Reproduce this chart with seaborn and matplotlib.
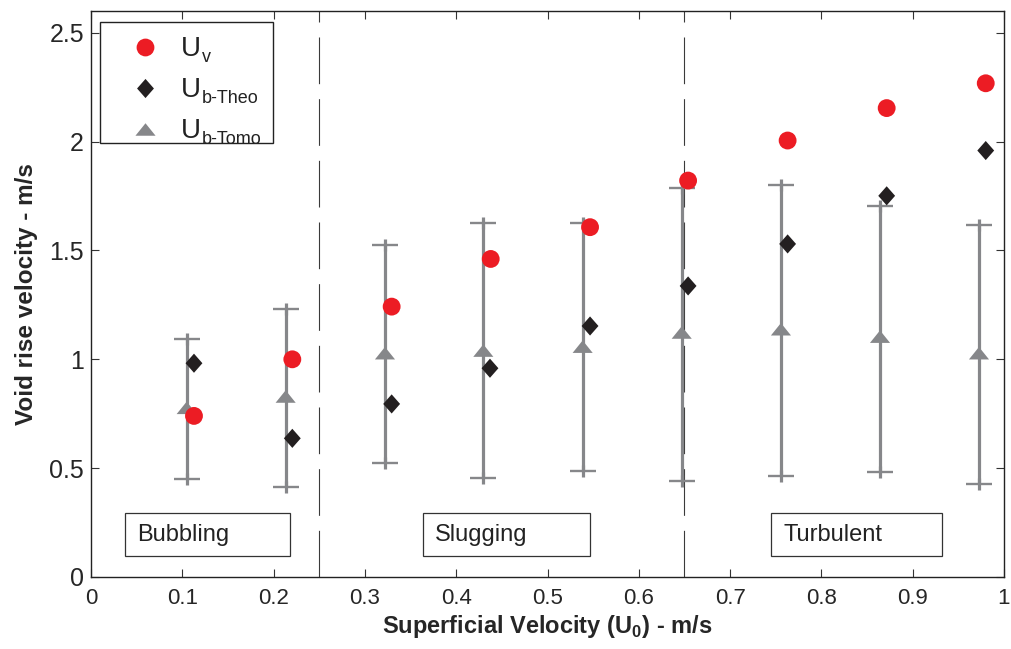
import matplotlib
matplotlib.use("Agg")
import matplotlib.pyplot as plt
from matplotlib.lines import Line2D
import numpy as np
import pandas as pd
import seaborn as sns

# Superficial velocity positions for each series (m/s)
u0_v = [0.1128, 0.2205, 0.3293, 0.4378, 0.5466, 0.654, 0.763, 0.8715, 0.980]
u_v = [0.740, 1.000, 1.242, 1.461, 1.607, 1.821, 2.005, 2.154, 2.268]

u0_theo = [0.1128, 0.2205, 0.3293, 0.437, 0.5466, 0.654, 0.763, 0.8715, 0.980]
u_theo = [0.982, 0.637, 0.795, 0.959, 1.153, 1.337, 1.530, 1.751, 1.959]

u0_tomo = [0.1048, 0.2132, 0.322, 0.4297, 0.5385, 0.647, 0.7557, 0.8642, 0.9726]
u_tomo = [0.777, 0.829, 1.028, 1.040, 1.058, 1.123, 1.138, 1.104, 1.028]
tomo_low = [0.450, 0.415, 0.522, 0.4535, 0.4886, 0.443, 0.464, 0.484, 0.427]
tomo_high = [1.094, 1.232, 1.523, 1.625, 1.625, 1.789, 1.801, 1.706, 1.618]

legend_subscripts = ["v", "b-Theo", "b-Tomo"]

regime_bounds = [0.25, 0.65]
regime_names = ["Bubbling", "Slugging", "Turbulent"]
regime_box_x = [0.037, 0.364, 0.745]
regime_box_w = [0.181, 0.183, 0.187]

x_ticks = [0, 0.1, 0.2, 0.3, 0.4, 0.5, 0.6, 0.7, 0.8, 0.9, 1]
y_ticks = [0, 0.5, 1, 1.5, 2, 2.5]

sns.set_theme(style="white")
plt.rcParams["font.family"] = ["Liberation Sans", "DejaVu Sans"]
plt.rcParams["mathtext.fontset"] = "custom"
plt.rcParams["mathtext.rm"] = "Liberation Sans"
plt.rcParams["mathtext.bf"] = "Liberation Sans:bold"

RED = "#ec1c24"
DARK = "#231f20"
GREY = "#86878a"
TEXT = "#222222"

# wide, flat triangle and slightly tall diamond marker shapes
FLAT_TRI = [(-1.0, -0.62), (1.0, -0.62), (0.0, 0.62)]
TALL_DIAMOND = [(0.0, 1.0), (0.88, 0.0), (0.0, -1.0), (-0.88, 0.0)]

fig = plt.figure(figsize=(10.11, 6.49), dpi=100)
ax = fig.add_axes([91 / 1011, 72 / 649, 913 / 1011, 566 / 649])

# Measured bubble velocity spread (tomography)
tomo = np.array(u_tomo)
yerr = np.vstack([tomo - np.array(tomo_low), np.array(tomo_high) - tomo])
ax.errorbar(u0_tomo, u_tomo, yerr=yerr, fmt="none", ecolor=GREY,
            elinewidth=2.3, capsize=9.5, capthick=1.7, zorder=2)
# short vertical stubs through the caps give the "+" ends
ax.plot(u0_tomo + u0_tomo, tomo_low + tomo_high, ls="none", marker="|",
        ms=8, mew=2.3, color=GREY, zorder=2)

df_tomo = pd.DataFrame({"x": u0_tomo, "y": u_tomo})
df_theo = pd.DataFrame({"x": u0_theo, "y": u_theo})
df_v = pd.DataFrame({"x": u0_v, "y": u_v})

sns.scatterplot(data=df_tomo, x="x", y="y", ax=ax, marker=FLAT_TRI, s=210,
                color=GREY, edgecolor="none", linewidth=0, zorder=3)
sns.scatterplot(data=df_theo, x="x", y="y", ax=ax, marker=TALL_DIAMOND, s=190,
                color=DARK, edgecolor="none", linewidth=0, zorder=4)
sns.scatterplot(data=df_v, x="x", y="y", ax=ax, marker="o", s=165,
                color=RED, edgecolor="none", linewidth=0, zorder=5)

# Flow regime boundaries
for xb in regime_bounds:
    ax.axvline(xb, color="#3a3a3a", lw=0.8, dashes=(42, 13.5), zorder=1)

# Flow regime labels
for name, bx, bw in zip(regime_names, regime_box_x, regime_box_w):
    ax.add_patch(plt.Rectangle((bx, 0.0965), bw, 0.197, transform=ax.transData,
                               fill=True, facecolor="white", edgecolor="#333333",
                               lw=0.9, zorder=6))
    ax.text(bx + 0.013, 0.0965 + 0.197 / 2, name, fontsize=17, color=TEXT,
            va="center", ha="left", zorder=7)

ax.set_xlim(0, 1)
ax.set_ylim(0, 2.6)
ax.set_xticks(x_ticks)
ax.set_xticklabels([f"{t:g}" for t in x_ticks], fontsize=16)
ax.set_yticks(y_ticks)
ax.set_yticklabels([f"{t:g}" for t in y_ticks], fontsize=18)
ax.tick_params(direction="in", length=6, width=0.8, color="#333333",
               top=True, right=True, bottom=True, left=True)
ax.tick_params(axis="x", pad=8)
ax.tick_params(axis="y", pad=5)
for sp in ax.spines.values():
    sp.set_color("#222222")
    sp.set_linewidth(1.0)

ax.set_xlabel(r"Superficial Velocity (U$_\mathbf{0}$) - m/s", fontsize=17,
              fontweight="bold", labelpad=3)
ax.set_ylabel("Void rise velocity - m/s", fontsize=17.5, fontweight="bold", labelpad=8)

# Legend: frame drawn as its own rectangle, entries placed inside it
ax.add_patch(plt.Rectangle((0.00986, 0.7668), 0.1894, 0.2138, transform=ax.transAxes,
                           facecolor="white", edgecolor="#222222", lw=1.0, zorder=8))
handles = [
    Line2D([], [], ls="none", marker="o", ms=12.8, color=RED, mec="none"),
    Line2D([], [], ls="none", marker=TALL_DIAMOND, ms=13.8, color=DARK, mec="none"),
    Line2D([], [], ls="none", marker=FLAT_TRI, ms=14.5, color=GREY, mec="none"),
]
leg = ax.legend(handles, ["U", "U", "U"], loc="upper left",
                bbox_to_anchor=(0.0285, 0.955),
                fontsize=20, frameon=False, borderpad=0.0,
                labelspacing=0.54, handletextpad=0.31, handlelength=2.0,
                borderaxespad=0)
leg.set_zorder(9)
# small subscripts hung on the baseline of each legend "U"
for txt, sub in zip(leg.get_texts(), legend_subscripts):
    txt.set_color(TEXT)
    ax.annotate(sub, xy=(1.0, 0.0), xycoords=txt, xytext=(0.5, 0.5),
                textcoords="offset points", fontsize=13, color=TEXT,
                ha="left", va="baseline", zorder=10, annotation_clip=False)

fig.savefig("out.png", dpi=100, facecolor="white")
